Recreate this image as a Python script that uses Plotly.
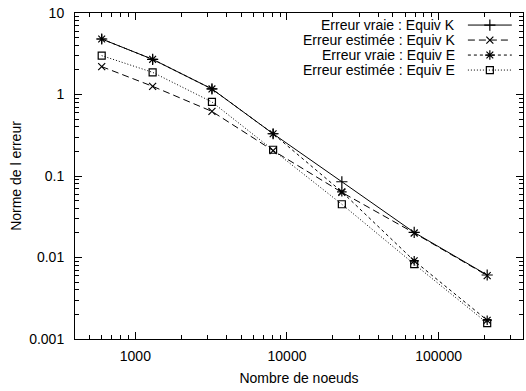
import plotly.graph_objects as go
import math

# ---- data ----
nodes = [600, 1300, 3200, 8100, 23000, 69000, 209000]
vraie_K = [4.8, 2.7, 1.17, 0.33, 0.085, 0.0203, 0.0061]
estimee_K = [2.2, 1.26, 0.62, 0.205, 0.063, 0.02, 0.006]
vraie_E = [4.8, 2.7, 1.17, 0.33, 0.064, 0.0091, 0.0017]
estimee_E = [3.0, 1.87, 0.81, 0.21, 0.045, 0.0083, 0.00157]

names = ["Erreur vraie : Equiv K", "Erreur estimée : Equiv K",
         "Erreur vraie : Equiv E", "Erreur estimée : Equiv E"]
series = [vraie_K, estimee_K, vraie_E, estimee_E]
dashes = ["solid", "7px,4px", "3px,3px", "1px,2px"]
symbols = ["cross-thin-open", "x-thin-open", "asterisk-open", "square-open"]
sizes = [8, 7, 8, 7]

y_ticks = [0.001, 0.01, 0.1, 1, 10]
y_ticktext = ["0.001", "0.01", "0.1", "1", "10"]
x_ticks = [1000, 10000, 100000]
x_ticktext = ["1000", "10000", "100000"]

FONT = "Liberation Sans, Arial, Helvetica, sans-serif"

fig = go.Figure()
for nm, ys, d, s, sz in zip(names, series, dashes, symbols, sizes):
    fig.add_trace(go.Scatter(
        x=nodes, y=ys, mode="lines+markers", name=nm,
        line=dict(color="black", width=1, dash=d),
        marker=dict(symbol=s, size=sz, color="black",
                    line=dict(color="black", width=1.2)),
        showlegend=False))

# gnuplot-style key: text right-aligned, sample on the right
key_rows = [0.963, 0.917, 0.871, 0.825]
key_text_x = 0.852
key_line = [0.877, 0.975]
for nm, d, s, sz, ky in zip(names, dashes, symbols, sizes, key_rows):
    fig.add_trace(go.Scatter(
        x=key_line, y=[ky, ky], mode="lines", xaxis="x2", yaxis="y2",
        line=dict(color="black", width=1, dash=d), showlegend=False,
        hoverinfo="skip"))
    fig.add_trace(go.Scatter(
        x=[sum(key_line) / 2], y=[ky], mode="markers", xaxis="x2", yaxis="y2",
        marker=dict(symbol=s, size=sz, color="black",
                    line=dict(color="black", width=1.2)),
        showlegend=False, hoverinfo="skip"))
    fig.add_annotation(x=key_text_x, y=ky, xref="x2", yref="y2", text=nm,
                       showarrow=False, xanchor="right", yanchor="middle",
                       font=dict(size=14, color="black", family=FONT))

axis_common = dict(showgrid=False, zeroline=False, showline=True,
                   linecolor="black", linewidth=1, mirror="allticks",
                   ticks="inside", ticklen=7, tickcolor="black",
                   tickfont=dict(size=14, color="black", family=FONT))

fig.update_layout(
    width=526, height=391,
    margin=dict(l=75, r=3, t=13, b=52),
    paper_bgcolor="white", plot_bgcolor="white",
    font=dict(family=FONT, color="black"),
    xaxis=dict(type="log", range=[math.log10(400), math.log10(360000)],
               tickvals=x_ticks, ticktext=x_ticktext,
               ticklabelstandoff=4,
               minor=dict(ticks="inside", ticklen=4, tickcolor="black",
                          dtick="D1", showgrid=False),
               title=dict(text="Nombre de noeuds", font=dict(size=14),
                          standoff=10),
               **axis_common),
    yaxis=dict(type="log", range=[-3, 1],
               tickvals=y_ticks, ticktext=y_ticktext,
               ticklabelstandoff=7,
               minor=dict(ticks="inside", ticklen=4, tickcolor="black",
                          dtick="D1", showgrid=False),
               title=dict(text="Norme de l erreur", font=dict(size=14),
                          standoff=4),
               **axis_common),
    xaxis2=dict(overlaying="x", range=[0, 1], visible=False, anchor="y2"),
    yaxis2=dict(overlaying="y", range=[0, 1], visible=False, anchor="x2"),
)

fig.write_html("out.html")
